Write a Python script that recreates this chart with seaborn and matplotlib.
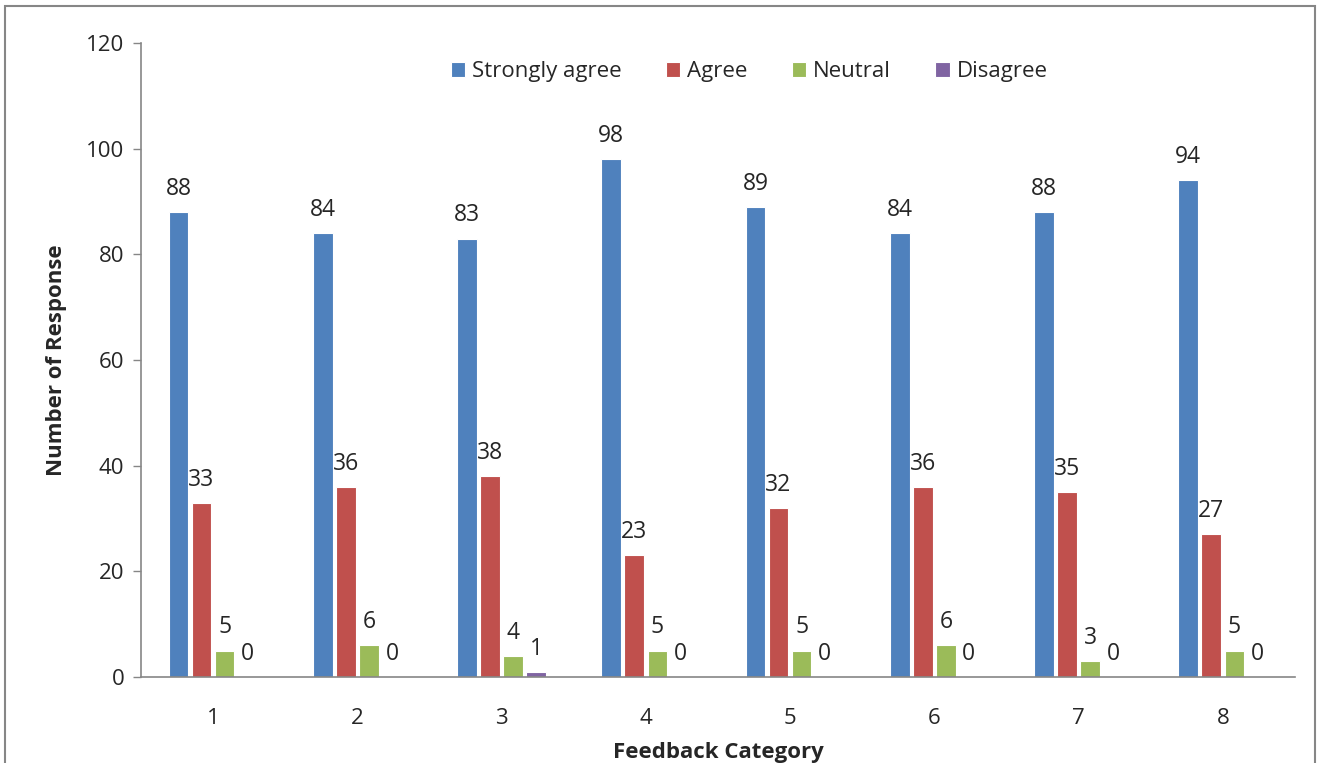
import pandas as pd
import matplotlib.pyplot as plt
import matplotlib.patches as mpatches
import seaborn as sns

# Feedback survey counts per category
categories = ['1', '2', '3', '4', '5', '6', '7', '8']
strongly_agree = [88, 84, 83, 98, 89, 84, 88, 94]
agree = [33, 36, 38, 23, 32, 36, 35, 27]
neutral = [5, 6, 4, 5, 5, 6, 3, 5]
disagree = [0, 0, 1, 0, 0, 0, 0, 0]

responses = ['Strongly agree', 'Agree', 'Neutral', 'Disagree']
colors = ['#4F81BD', '#C0504D', '#9BBB59', '#8064A2']

# long format for seaborn
rows = []
for name, vals in zip(responses, [strongly_agree, agree, neutral, disagree]):
    for c, v in zip(categories, vals):
        rows.append({'Category': c, 'Response': name, 'Count': v})
df = pd.DataFrame(rows)

sns.set_style('white')
plt.rcParams['font.family'] = ['Open Sans', 'DejaVu Sans']

fig = plt.figure(figsize=(13.2, 7.63), dpi=100)
ax = fig.add_axes([0.1068, 0.1127, 0.8742, 0.8309])

sns.barplot(data=df, x='Category', y='Count', hue='Response', order=categories,
            hue_order=responses, palette=colors, saturation=1, width=0.64, gap=0.15,
            edgecolor='white', linewidth=0.8, ax=ax)

for cont in ax.containers:
    ax.bar_label(cont, padding=8, fontsize=16.5)

ax.set_ylim(0, 120)
ax.set_yticks(range(0, 121, 20))
ax.set_xlim(-0.5, len(categories) - 0.5)
ax.tick_params(axis='y', labelsize=16, length=6, width=1, color='#868686',
               direction='out', left=True, pad=6)
ax.tick_params(axis='x', labelsize=16, length=0, pad=22)

for side in ['top', 'right']:
    ax.spines[side].set_visible(False)
for side in ['left', 'bottom']:
    ax.spines[side].set_color('#868686')
    ax.spines[side].set_linewidth(1.2)

ax.set_xlabel('Feedback Category', fontsize=16, fontweight='bold', labelpad=10)
ax.set_ylabel('Number of Response', fontsize=16, fontweight='bold', labelpad=14)

ax.legend(loc='center', bbox_to_anchor=(0.527, 0.955), ncol=4, frameon=False,
          fontsize=16, handlelength=0.65, handleheight=0.65, handletextpad=0.3,
          columnspacing=2.0, title=None)

# outer chart border
fig.patches.append(mpatches.Rectangle((0.004, -0.05), 0.992, 1.042,
                                      transform=fig.transFigure, fill=False,
                                      edgecolor='#868686', linewidth=1.5))

fig.savefig('out.png', dpi=100)
